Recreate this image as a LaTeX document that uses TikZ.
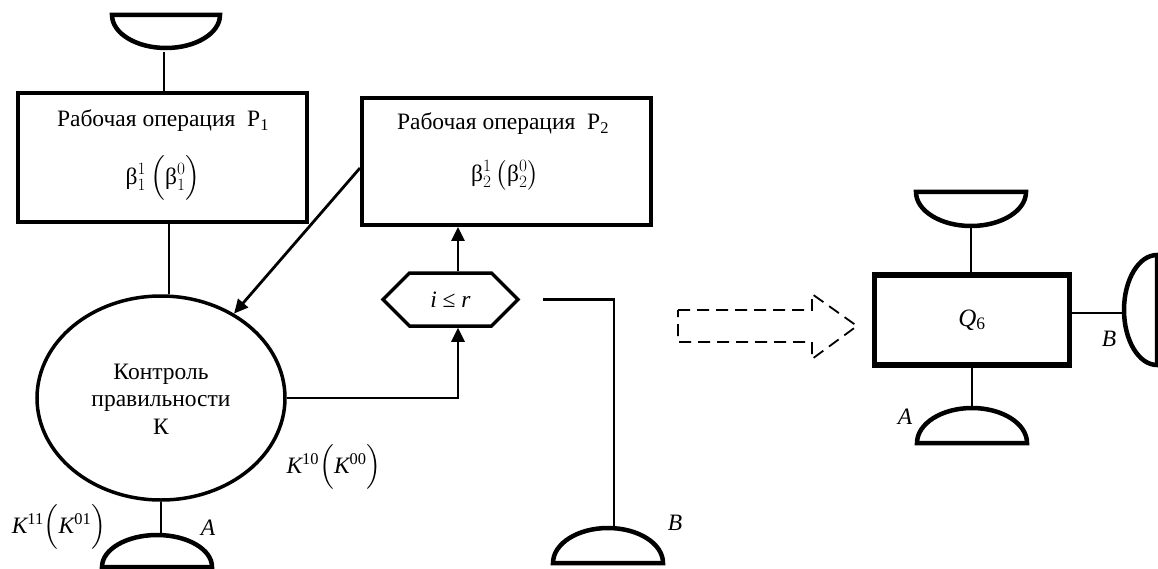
\documentclass[tikz,border=0pt]{standalone}
\usepackage{fontspec}
\usepackage{amsmath}
\setmainfont{Liberation Serif}
\usetikzlibrary{shapes.geometric,shapes.symbols,arrows.meta,calc}
\begin{document}
\begin{tikzpicture}[x=1pt,y=-1pt,
  box/.style={draw,line width=4pt,inner sep=0pt},
  conn/.style={line width=2.8pt},
  arr/.style={conn,-{Triangle[length=14pt,width=13pt]}},
  term/.style={line width=4.5pt},
  lbl/.style={font=\fontsize{23.5}{27.5}\selectfont,inner sep=0pt},
  dasharrow/.style={line width=1.8pt,dash pattern=on 12pt off 7pt}]
\useasboundingbox (0,0) rectangle (1158,569);

% boxes
\node[box,minimum width=289pt,minimum height=129pt] (P1) at (162.5,157.5) {};
\node[lbl] (P1a) at (163,121) {Рабочая операция\enspace P\textsubscript{1}};
\node[lbl] (P1b) at (163,178) {$\text{β}_1^1\,\Bigl(\text{β}_1^0\Bigr)$};

\node[box,minimum width=289pt,minimum height=127pt] (P2) at (506.5,161.5) {};
\node[lbl] (P2a) at (503,124) {Рабочая операция\enspace P\textsubscript{2}};
\node[lbl] (P2b) at (505,175) {$\text{β}_2^1\,\bigl(\text{β}_2^0\bigr)$};

\node[draw,ellipse,line width=3.5pt,minimum width=248pt,minimum height=204pt,inner sep=0pt] (K) at (161,398) {};
\node[lbl,align=center] (Kt) at (161,399) {Контроль\\правильности\\К};

\node[draw,signal,signal to=west and east,line width=3.5pt,minimum width=135pt,minimum height=53pt,inner sep=0pt,font=\fontsize{23.5}{27.5}\selectfont] (H) at (450.5,299.5) {\textit{i} ≤ \textit{r}};

\node[draw,line width=5.5pt,minimum width=195pt,minimum height=90pt,inner sep=0pt,font=\fontsize{25}{28}\selectfont] (Q) at (972,320) {\textit{Q}\textsubscript{6}};

% terminals (left part)
\draw[term] (112,15) arc[start angle=180,end angle=360,x radius=54pt,y radius=33pt] -- cycle;
\draw[term] (102,567) arc[start angle=180,end angle=0,x radius=55pt,y radius=32pt] -- cycle;
\draw[term] (553,563) arc[start angle=180,end angle=0,x radius=55pt,y radius=35pt] -- cycle;
% terminals (Q6)
\draw[term] (916,192) arc[start angle=180,end angle=360,x radius=55pt,y radius=34pt] -- cycle;
\draw[term] (917,443) arc[start angle=180,end angle=0,x radius=55pt,y radius=35pt] -- cycle;
\draw[term] (1157,255) arc[start angle=90,end angle=270,x radius=33pt,y radius=55pt] -- cycle;

% coordinates
\coordinate (t1) at (164,52);
\coordinate (a1) at ([xshift=6.5pt]P1.south);
\coordinate (a2) at ([yshift=-6.5pt]P2.west);
\coordinate (hs) at ([xshift=7.5pt]H.south);
\coordinate (hn) at ([xshift=7.5pt]H.north);
\coordinate (b0) at ([xshift=23pt]H.east);
\coordinate (tB) at (614,528);
\coordinate (tA) at (161,535);
\coordinate (qt) at (971,226);
\coordinate (qb) at (972,408);
\coordinate (qr) at (1124,313);

% connectors
\draw[conn] (t1) -- (t1 |- P1.north);
\draw[conn] (a1) -- (a1 |- K.north);
\draw[arr] (a2) -- (K);
\draw[arr] (K.east) -| (hs);
\draw[arr] (hn) -- (hn |- P2.south);
\draw[conn] (b0) -| (tB);
\draw[conn] (K.south) -- (tA);
\draw[conn] (qt) -- (qt |- Q.north);
\draw[conn] (Q.south) -- (qb);
\draw[conn] (qr -| Q.east) -- (qr);

% dashed transformation arrow
\draw[dasharrow] (678,310) -- (812,310) -- (812,294) -- (857,326) -- (812,359) -- (812,342) -- (678,342) -- cycle;

% labels
\node[lbl] (L10) at (334,467) {$\textit{K}^{\text{10}}\Bigl(\textit{K}^{\text{00}}\Bigr)$};
\node[lbl] (L11) at (59,527) {$\textit{K}^{\text{11}}\Bigl(\textit{K}^{\text{01}}\Bigr)$};
\node[lbl] (LA1) at (208,528) {\textit{A}};
\node[lbl] (LB1) at (675,523) {\textit{B}};
\node[lbl] (LA2) at (905,417) {\textit{A}};
\node[lbl] (LB2) at (1109,339) {\textit{B}};
\end{tikzpicture}
\end{document}
